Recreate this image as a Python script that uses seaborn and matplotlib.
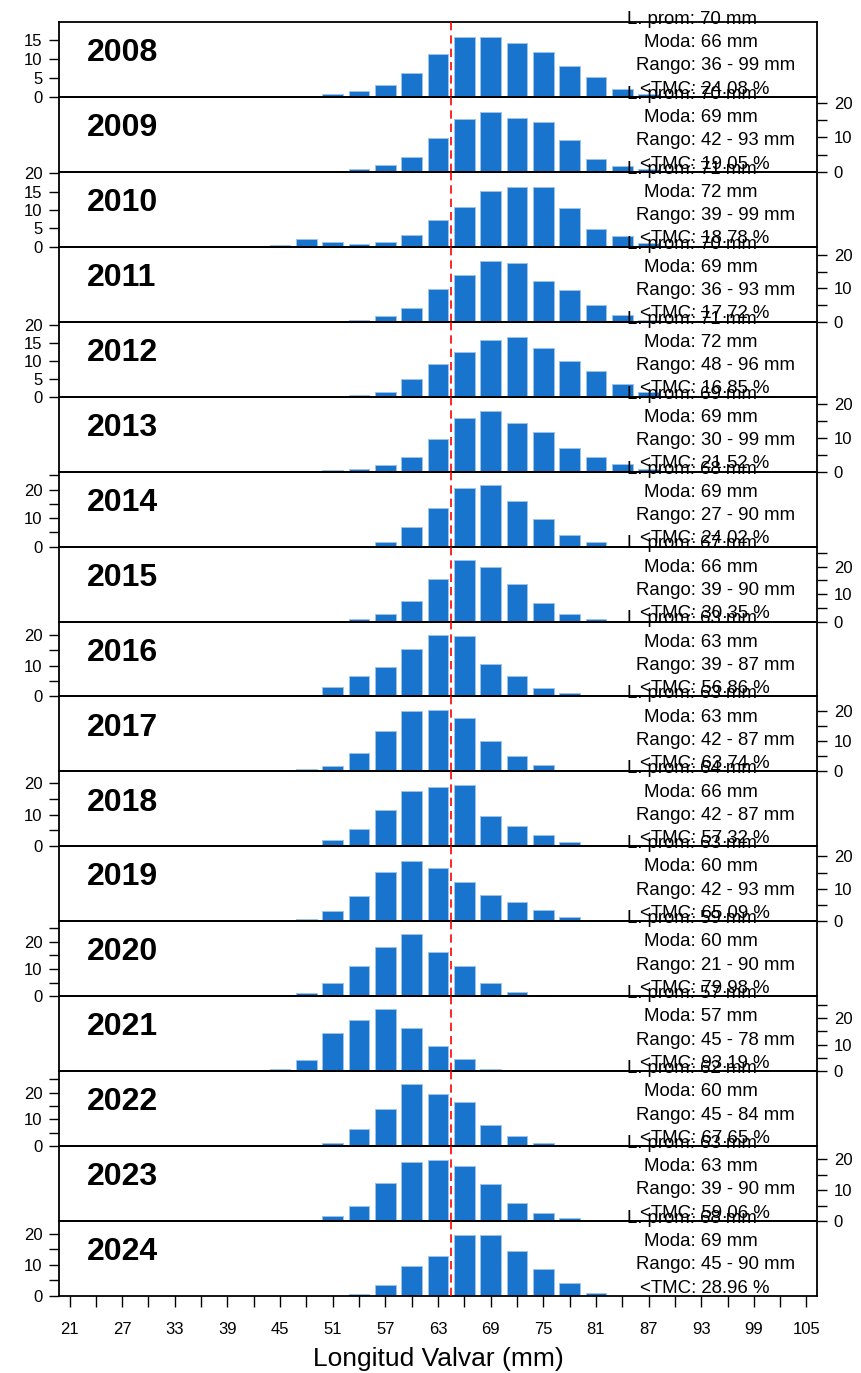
import matplotlib
matplotlib.use("Agg")
import matplotlib.pyplot as plt
import seaborn as sns
import pandas as pd
from matplotlib.ticker import MultipleLocator, FuncFormatter

# ---------------- data ----------------
length_bins = [45, 48, 51, 54, 57, 60, 63, 66, 69, 72, 75, 78, 81, 84, 87]
years = [2008, 2009, 2010, 2011, 2012, 2013, 2014, 2015, 2016,
         2017, 2018, 2019, 2020, 2021, 2022, 2023, 2024]

freq_2008 = [0, 0, 0.7, 1.7, 3.2, 6.4, 11.5, 15.8, 15.8, 14.3, 11.9, 8.3, 5.3, 2.2, 0.8]
freq_2009 = [0, 0, 0, 0.7, 1.9, 4.4, 9.9, 15.4, 17.4, 15.7, 14.4, 9.3, 3.8, 1.7, 0.7]
freq_2010 = [0.4, 2.0, 1.4, 0.8, 1.4, 3.1, 7.2, 10.8, 15.1, 16.2, 16.2, 10.4, 4.7, 2.9, 1.1]
freq_2011 = [0, 0, 0, 0.5, 1.7, 4.2, 9.9, 14.1, 18.2, 17.7, 12.3, 9.6, 4.9, 1.9, 0.6]
freq_2012 = [0, 0, 0, 0.4, 1.3, 4.8, 9.1, 12.4, 15.8, 16.7, 13.6, 10.0, 7.2, 3.6, 1.3]
freq_2013 = [0, 0, 0.4, 0.7, 2.0, 4.5, 9.6, 16.1, 18.0, 14.6, 11.9, 6.9, 4.4, 2.2, 0.7]
freq_2014 = [0, 0, 0, 0, 1.6, 6.8, 13.5, 20.6, 21.6, 16.1, 9.6, 4.2, 1.6, 0, 0]
freq_2015 = [0, 0, 0, 1.1, 2.9, 7.3, 15.6, 22.5, 19.9, 13.6, 6.7, 2.9, 1.1, 0, 0]
freq_2016 = [0, 0.6, 3.0, 6.5, 9.7, 15.4, 19.9, 19.7, 10.7, 6.5, 2.8, 1.2, 0.3, 0, 0]
freq_2017 = [0.3, 0.9, 1.8, 6.0, 13.3, 20.2, 20.4, 17.7, 10.0, 5.0, 2.3, 0, 0, 0, 0]
freq_2018 = [0, 0, 1.9, 5.6, 11.6, 17.5, 18.8, 19.2, 9.5, 6.3, 3.7, 1.4, 0.4, 0, 0]
freq_2019 = [0, 0.6, 3.2, 7.7, 15.3, 18.7, 16.3, 12.0, 8.2, 5.9, 3.4, 1.3, 0.5, 0, 0]
freq_2020 = [0, 1.2, 4.9, 11.2, 18.2, 22.7, 16.3, 10.9, 4.9, 1.6, 0.5, 0, 0, 0, 0]
freq_2021 = [0.7, 4.2, 14.4, 19.4, 23.4, 16.3, 9.3, 4.5, 0.7, 0, 0, 0, 0, 0, 0]
freq_2022 = [0, 0, 1.25, 6.25, 14.0, 23.25, 19.5, 16.4, 7.75, 3.75, 1.25, 0, 0, 0, 0]
freq_2023 = [0, 0, 1.6, 4.9, 12.2, 19.2, 19.8, 17.9, 11.9, 6.0, 2.7, 0.9, 0, 0, 0]
freq_2024 = [0, 0, 0, 0.5, 3.7, 9.7, 12.8, 19.7, 19.7, 14.6, 8.8, 4.3, 1.1, 0, 0]

freqs = [freq_2008, freq_2009, freq_2010, freq_2011, freq_2012, freq_2013,
         freq_2014, freq_2015, freq_2016, freq_2017, freq_2018, freq_2019,
         freq_2020, freq_2021, freq_2022, freq_2023, freq_2024]

mean_length = [70, 70, 71, 70, 71, 69, 68, 67, 63, 63, 64, 63, 59, 57, 62, 63, 68]
mode_length = [66, 69, 72, 69, 72, 69, 69, 66, 63, 63, 66, 60, 60, 57, 60, 63, 69]
range_min = [36, 42, 39, 36, 48, 30, 27, 39, 39, 42, 42, 42, 21, 45, 45, 39, 45]
range_max = [99, 93, 99, 93, 96, 99, 90, 90, 87, 87, 87, 93, 90, 78, 84, 90, 90]
pct_below_tmc = [24.08, 19.05, 18.78, 17.72, 16.85, 21.52, 24.02, 30.35, 56.86,
                 63.74, 57.32, 65.09, 79.98, 93.19, 67.65, 59.06, 28.96]

tmc_line = 64.5
x_ticks = list(range(21, 106, 3))
x_tick_labels = [str(v) if (v - 21) % 6 == 0 else "" for v in x_ticks]

# ---------------- style ----------------
sns.set_style("ticks")
plt.rcParams["font.family"] = ["Liberation Sans", "DejaVu Sans"]
for k in ["text.color", "axes.labelcolor", "xtick.color", "ytick.color", "axes.edgecolor"]:
    plt.rcParams[k] = "black"

BAR = "#1874CD"
EDGE = "#9cc3ea"
W, H = 862, 1373

fig, axes = plt.subplots(len(years), 1, figsize=(W / 100, H / 100), dpi=100, sharex=True)
fig.subplots_adjust(left=59 / W, right=817 / W, top=1 - 22 / H, bottom=1 - 1296 / H, hspace=0)

# left edges (axes fraction) and vertical centres of the four info lines
info_x = [(627 - 59) / 758, (644 - 59) / 758, (636 - 59) / 758, (640 - 59) / 758]
info_y = [1.035, 0.725, 0.415, 0.105]

for i, (ax, yr, fr) in enumerate(zip(axes, years, freqs)):
    df = pd.DataFrame({"len": length_bins, "pct": fr})
    df = df[df["pct"] > 0]
    sns.barplot(data=df, x="len", y="pct", native_scale=True, width=0.79,
                color=BAR, saturation=1, edgecolor=EDGE, linewidth=0.7,
                errorbar=None, ax=ax)
    ax.set_facecolor("none")
    ax.set_xlabel("")
    ax.set_ylabel("")
    top = 1.1 * max(fr) + 2.5
    ax.set_ylim(0, top)
    ax.yaxis.set_major_locator(MultipleLocator(5))
    if top <= 21.3:
        ax.yaxis.set_major_formatter(FuncFormatter(lambda v, p: f"{v:.0f}"))
    else:
        ax.yaxis.set_major_formatter(FuncFormatter(lambda v, p: f"{v:.0f}" if round(v) % 10 == 0 else ""))
    if i % 2 == 1:
        ax.yaxis.tick_right()
        ax.yaxis.set_label_position("right")
    ax.tick_params(axis="y", length=7, width=1, labelsize=12, pad=5, colors="black")
    for s in ax.spines.values():
        s.set_visible(True)
        s.set_linewidth(1.3)
        s.set_color("black")

    ax.axvline(tmc_line, color="red", linestyle=(0, (5, 3)), linewidth=1.2, zorder=3)

    ax.text(0.037, 0.585, str(yr), transform=ax.transAxes, fontsize=23,
            fontweight="bold", ha="left", va="center")
    lines = [f"L. prom: {mean_length[i]} mm",
             f"Moda: {mode_length[i]} mm",
             f"Rango: {range_min[i]} - {range_max[i]} mm",
             f"<TMC: {pct_below_tmc[i]:.2f} %"]
    for j, t in enumerate(lines):
        ax.text(info_x[j], info_y[j], t, transform=ax.transAxes,
                ha="left", va="center", fontsize=13.4, clip_on=False, zorder=10)

    if i < len(years) - 1:
        ax.tick_params(axis="x", bottom=False, labelbottom=False)

last = axes[-1]
last.set_xticks(x_ticks)
last.set_xticklabels(x_tick_labels)
last.tick_params(axis="x", bottom=True, labelbottom=True, length=8, width=1,
                 labelsize=12, pad=11, colors="black")
last.set_xlim(19.8, 106.2)
last.set_xlabel("Longitud Valvar (mm)", fontsize=19, labelpad=7)

fig.savefig("out.png", dpi=100)
